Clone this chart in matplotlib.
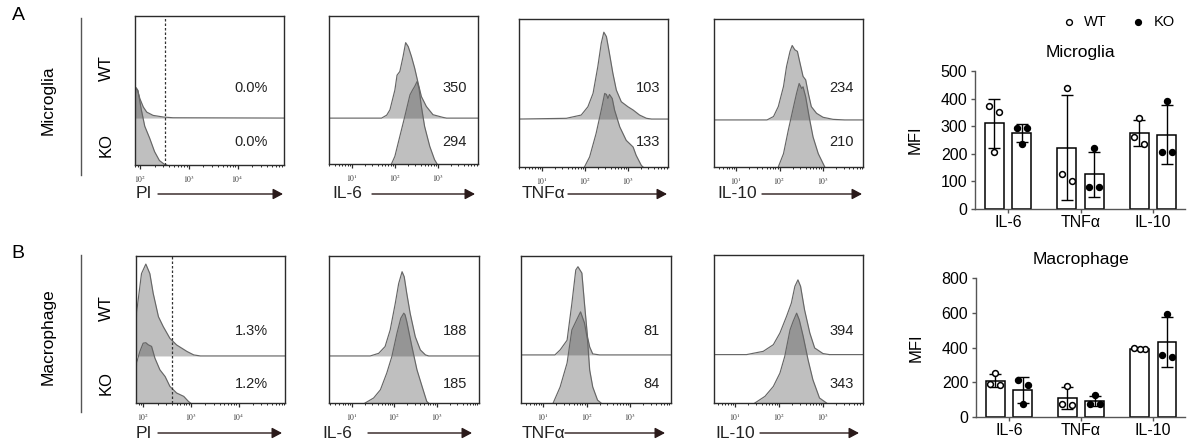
import numpy as np
import matplotlib
matplotlib.use('Agg')
import matplotlib.pyplot as plt
from matplotlib.lines import Line2D

plt.rcParams['font.family'] = ['Liberation Sans', 'DejaVu Sans']
plt.rcParams['mathtext.fontset'] = 'stix'

W, H = 1188, 446

# ---------------- histogram readouts: log10 intensity / height (fraction of box) ----------------
# Row A : Microglia
A_PI_WT_x = [1.90, 1.92, 1.95, 2.00, 2.07, 2.14, 2.27, 2.48, 2.68, 4.95]
A_PI_WT_h = [0.12, 0.20, 0.19, 0.13, 0.074, 0.04, 0.018, 0.007, 0.002, 0.0]
A_PI_KO_x = [1.90, 1.92, 1.96, 2.03, 2.10, 2.20, 2.30, 2.40, 2.50, 2.55]
A_PI_KO_h = [0.46, 0.52, 0.50, 0.37, 0.26, 0.18, 0.09, 0.03, 0.005, 0.0]

A_IL6_WT_x = [0.47, 1.69, 1.81, 1.885, 2.0, 2.05, 2.115, 2.19, 2.25, 2.31, 2.385, 2.46, 2.54, 2.615, 2.73, 2.885, 3.115, 3.2, 3.93]
A_IL6_WT_h = [0, 0, 0.02, 0.056, 0.19, 0.29, 0.315, 0.416, 0.51, 0.483, 0.416, 0.337, 0.236, 0.146, 0.079, 0.023, 0.005, 0, 0]
A_IL6_KO_x = [1.92, 2.0, 2.115, 2.23, 2.35, 2.41, 2.46, 2.515, 2.56, 2.615, 2.69, 2.81, 2.92, 2.98]
A_IL6_KO_h = [0, 0.052, 0.187, 0.321, 0.467, 0.50, 0.524, 0.557, 0.512, 0.389, 0.254, 0.119, 0.03, 0]

A_TNF_WT_x = [0.47, 1.57, 1.915, 2.07, 2.19, 2.30, 2.38, 2.44, 2.50, 2.57, 2.65, 2.73, 2.845, 3.0, 3.12, 3.27, 3.43, 3.55, 3.93]
A_TNF_WT_h = [0, 0.005, 0.027, 0.083, 0.174, 0.354, 0.512, 0.587, 0.557, 0.444, 0.309, 0.196, 0.117, 0.083, 0.061, 0.027, 0.005, 0, 0]
A_TNF_KO_x = [1.99, 2.11, 2.26, 2.38, 2.46, 2.50, 2.535, 2.57, 2.635, 2.69, 2.81, 2.96, 3.12, 3.19, 3.31, 3.35]
A_TNF_KO_h = [0, 0.068, 0.226, 0.384, 0.497, 0.49, 0.463, 0.49, 0.463, 0.384, 0.271, 0.18, 0.135, 0.079, 0.011, 0]

A_IL10_WT_x = [0.47, 1.71, 1.86, 1.97, 2.09, 2.16, 2.24, 2.29, 2.35, 2.41, 2.47, 2.54, 2.60, 2.66, 2.73, 2.85, 3.0, 3.23, 3.5, 3.93]
A_IL10_WT_h = [0, 0, 0.023, 0.09, 0.226, 0.361, 0.463, 0.503, 0.474, 0.463, 0.384, 0.294, 0.271, 0.181, 0.09, 0.045, 0.018, 0.004, 0, 0]
A_IL10_KO_x = [1.97, 2.09, 2.20, 2.32, 2.39, 2.45, 2.51, 2.54, 2.60, 2.68, 2.77, 2.89, 3.04]
A_IL10_KO_h = [0, 0.09, 0.248, 0.406, 0.497, 0.564, 0.53, 0.542, 0.474, 0.339, 0.203, 0.09, 0]

# Row B : Macrophage
B_PI_WT_x = [1.85, 1.86, 1.965, 2.056, 2.14, 2.21, 2.32, 2.42, 2.56, 2.70, 2.92, 3.06, 3.20, 4.97]
B_PI_WT_h = [0.05, 0.29, 0.56, 0.625, 0.56, 0.426, 0.267, 0.20, 0.12, 0.075, 0.03, 0.007, 0.0, 0.0]
B_PI_KO_x = [1.85, 1.86, 1.93, 2.0, 2.056, 2.106, 2.176, 2.246, 2.35, 2.46, 2.56, 2.70, 2.85, 2.95, 2.99]
B_PI_KO_h = [0.1, 0.27, 0.35, 0.407, 0.41, 0.396, 0.385, 0.305, 0.226, 0.18, 0.113, 0.068, 0.045, 0.01, 0.0]

B_IL6_WT_x = [0.47, 1.43, 1.63, 1.78, 1.90, 2.02, 2.10, 2.18, 2.23, 2.29, 2.37, 2.49, 2.61, 2.73, 2.81, 3.99]
B_IL6_WT_h = [0, 0, 0.018, 0.064, 0.177, 0.358, 0.493, 0.573, 0.539, 0.426, 0.29, 0.131, 0.041, 0.007, 0, 0]
B_IL6_KO_x = [1.31, 1.51, 1.67, 1.82, 1.94, 2.06, 2.15, 2.22, 2.25, 2.29, 2.41, 2.53, 2.65, 2.76, 2.80]
B_IL6_KO_h = [0, 0.034, 0.09, 0.204, 0.317, 0.475, 0.577, 0.611, 0.60, 0.554, 0.385, 0.226, 0.113, 0.011, 0]

B_TNF_WT_x = [0.49, 1.27, 1.39, 1.55, 1.66, 1.75, 1.80, 1.89, 1.95, 2.02, 2.07, 2.14, 2.30, 3.94]
B_TNF_WT_h = [0, 0, 0.034, 0.10, 0.35, 0.578, 0.60, 0.557, 0.35, 0.122, 0.054, 0.007, 0, 0]
B_TNF_KO_x = [1.23, 1.39, 1.55, 1.66, 1.77, 1.86, 1.95, 2.02, 2.07, 2.14, 2.25, 2.33]
B_TNF_KO_h = [0, 0.109, 0.272, 0.497, 0.565, 0.62, 0.544, 0.43, 0.224, 0.109, 0.02, 0]

B_IL10_WT_x = [0.52, 1.26, 1.64, 1.87, 2.02, 2.17, 2.28, 2.36, 2.43, 2.49, 2.58, 2.70, 2.81, 3.0, 3.15, 3.91]
B_IL10_WT_h = [0, 0, 0.022, 0.067, 0.146, 0.258, 0.348, 0.461, 0.505, 0.461, 0.303, 0.146, 0.045, 0.007, 0, 0]
B_IL10_KO_x = [1.45, 1.68, 1.87, 2.02, 2.13, 2.25, 2.32, 2.40, 2.46, 2.55, 2.66, 2.77, 2.92, 3.08]
B_IL10_KO_h = [0, 0.045, 0.112, 0.202, 0.315, 0.494, 0.551, 0.607, 0.562, 0.449, 0.292, 0.157, 0.034, 0]

# numbers printed in the histograms (WT, KO)
A_labels = [('0.0%', '0.0%'), ('350', '294'), ('103', '133'), ('234', '210')]
B_labels = [('1.3%', '1.2%'), ('188', '185'), ('81', '84'), ('394', '343')]
markers = ['PI', 'IL-6', 'TNFα', 'IL-10']
PI_gate_A = 2.51
PI_gate_B = 2.60

# ---------------- MFI bar chart data ----------------
categories = ['IL-6', 'TNFα', 'IL-10']
mg_wt = [[372, 350, 208], [127, 100, 440], [262, 236, 328]]
mg_ko = [[294, 292, 236], [78, 78, 220], [208, 208, 392]]
mp_wt = [[188, 186, 253], [72, 70, 180], [396, 394, 390]]
mp_ko = [[215, 182, 73], [77, 75, 128], [355, 345, 595]]

# ---------------- figure ----------------
fig = plt.figure(figsize=(W / 100, H / 100), dpi=100)


def px_axes(x0, y0, x1, y1):
    return fig.add_axes([x0 / W, 1 - y1 / H, (x1 - x0) / W, (y1 - y0) / H])


def fx(x):
    return x / W


def fy(y):
    return 1 - y / H


FILL = (0.27, 0.27, 0.27)
ALPHA = 0.34
EDGE = '#666666'
FRAME = '#2b2b2b'


def draw_hist(ax, xlim, div, wx, wh, kx, kh, gate=None):
    wx = np.asarray(wx); wh = np.asarray(wh)
    kx = np.asarray(kx); kh = np.asarray(kh)
    ax.fill_between(wx, div, div + wh, color=FILL, alpha=ALPHA, lw=0)
    ax.plot(wx, div + wh, color=EDGE, lw=0.85)
    ax.fill_between(kx, 0, kh, color=FILL, alpha=ALPHA, lw=0)
    ax.plot(kx, kh, color=EDGE, lw=0.85)
    if gate is not None:
        ax.axvline(gate, color='#333333', lw=0.9, ls=(0, (2, 1.6)))
    ax.set_xlim(*xlim)
    ax.set_ylim(0, 1)
    ax.set_yticks([])
    d0 = int(np.floor(xlim[0])); d1 = int(np.ceil(xlim[1]))
    majors = [d for d in range(d0, d1 + 1) if xlim[0] <= d <= xlim[1]]
    minors = [d + np.log10(m) for d in range(d0, d1 + 1) for m in range(2, 10)
              if xlim[0] <= d + np.log10(m) <= xlim[1]]
    ax.set_xticks(majors)
    ax.set_xticklabels([r'$10^{%d}$' % d for d in majors])
    ax.set_xticks(minors, minor=True)
    ax.tick_params(axis='x', which='major', length=3, width=0.9, direction='out',
                   labelsize=5.5, pad=3.5, color=FRAME, labelcolor='#333333')
    ax.tick_params(axis='x', which='minor', length=1.6, width=0.7, direction='out', color=FRAME)
    for s in ax.spines.values():
        s.set_color(FRAME)
        s.set_linewidth(1.0)


rowA = [
    ((135, 16, 284, 165), (1.90, 4.95), 0.315, A_PI_WT_x, A_PI_WT_h, A_PI_KO_x, A_PI_KO_h, PI_gate_A),
    ((329, 16, 478, 164), (0.47, 3.93), 0.31, A_IL6_WT_x, A_IL6_WT_h, A_IL6_KO_x, A_IL6_KO_h, None),
    ((519, 19, 668, 167), (0.47, 3.93), 0.324, A_TNF_WT_x, A_TNF_WT_h, A_TNF_KO_x, A_TNF_KO_h, None),
    ((714, 19, 863, 167), (0.49, 3.92), 0.318, A_IL10_WT_x, A_IL10_WT_h, A_IL10_KO_x, A_IL10_KO_h, None),
]
rowB = [
    ((136, 256, 285, 403), (1.85, 4.97), 0.32, B_PI_WT_x, B_PI_WT_h, B_PI_KO_x, B_PI_KO_h, PI_gate_B),
    ((329, 256, 479, 403), (0.46, 3.99), 0.32, B_IL6_WT_x, B_IL6_WT_h, B_IL6_KO_x, B_IL6_KO_h, None),
    ((521, 256, 671, 403), (0.49, 3.94), 0.327, B_TNF_WT_x, B_TNF_WT_h, B_TNF_KO_x, B_TNF_KO_h, None),
    ((714, 255, 863, 403), (0.52, 3.91), 0.327, B_IL10_WT_x, B_IL10_WT_h, B_IL10_KO_x, B_IL10_KO_h, None),
]

num_right = [268, 467, 660, 854]
for rows, labels, ys, lab_y, txt_x, arr in [
        (rowA, A_labels, (88, 142), 194, [136, 332, 522, 717],
         [(158, 283), (372, 475), (568, 667), (762, 862)]),
        (rowB, B_labels, (331, 384), 433, [136, 322, 522, 715],
         [(158, 282), (368, 472), (565, 665), (760, 859)])]:
    for i, (rect, xlim, div, wx, wh, kx, kh, gate) in enumerate(rows):
        ax = px_axes(*rect)
        draw_hist(ax, xlim, div, wx, wh, kx, kh, gate)
        fig.text(fx(num_right[i]), fy(ys[0]), labels[i][0], ha='right', va='center', fontsize=10.5, color='#222222')
        fig.text(fx(num_right[i]), fy(ys[1]), labels[i][1], ha='right', va='center', fontsize=10.5, color='#222222')
        fig.text(fx(txt_x[i]), fy(lab_y), markers[i], ha='left', va='center', fontsize=12.5, color='#222222')
        fig.add_artist(matplotlib.patches.FancyArrowPatch(
            (fx(arr[i][0]), fy(lab_y)), (fx(arr[i][1]), fy(lab_y)), transform=fig.transFigure,
            arrowstyle='-|>,head_length=6,head_width=3.2', mutation_scale=1, lw=1.0,
            color='#2a1a1a', shrinkA=0, shrinkB=0))

# row titles, group labels
fig.text(fx(18), fy(16), 'A', fontsize=14, ha='center', va='center')
fig.text(fx(18), fy(253), 'B', fontsize=14, ha='center', va='center')
fig.text(fx(48), fy(100), 'Microglia', rotation=90, fontsize=12.5, ha='center', va='center')
fig.text(fx(48), fy(337), 'Macrophage', rotation=90, fontsize=12.5, ha='center', va='center')
fig.add_artist(Line2D([fx(81), fx(81)], [fy(18), fy(175)], color='#555555', lw=1.0))
fig.add_artist(Line2D([fx(81), fx(81)], [fy(255), fy(412)], color='#555555', lw=1.0))
for yy, t in [(68, 'WT'), (145, 'KO'), (308, 'WT'), (383, 'KO')]:
    fig.text(fx(106), fy(yy), t, rotation=90, fontsize=12, ha='center', va='center')

# ---------------- bar charts ----------------
OFF = 0.19
BW = 0.26
JIT = [-0.07, 0.07, 0.0]


def draw_bars(ax, wt, ko, ymax, step, title):
    xs = np.arange(len(categories))
    for vals, sign, face, ms_face in [(wt, -1, 'white', 'white'), (ko, 1, 'white', 'black')]:
        arr = np.array(vals, dtype=float)
        m = arr.mean(axis=1)
        sd = arr.std(axis=1, ddof=1)
        pos = xs + sign * OFF
        ax.bar(pos, m, width=BW, facecolor=face, edgecolor='black', lw=1.1, zorder=2)
        ax.errorbar(pos, m, yerr=sd, fmt='none', ecolor='black', elinewidth=1.0,
                    capsize=4, capthick=1.0, zorder=3)
        for j in range(arr.shape[1]):
            ax.plot(pos + JIT[j], arr[:, j], 'o', ms=4.2, mfc=ms_face, mec='black',
                    mew=1.1, zorder=4, clip_on=False)
    ax.set_xlim(-0.455, 2.44)
    ax.set_ylim(0, ymax)
    ax.set_yticks(np.arange(0, ymax + 1, step))
    ax.set_xticks(xs)
    ax.set_xticklabels(categories)
    for s in ['top', 'right']:
        ax.spines[s].set_visible(False)
    for s in ['left', 'bottom']:
        ax.spines[s].set_color('#555555')
        ax.spines[s].set_linewidth(1.0)
    ax.tick_params(axis='y', length=3, width=1.0, color='#555555', labelsize=11.5, pad=2.5)
    ax.tick_params(axis='x', length=3, width=1.0, color='#555555', labelsize=11.5, pad=1.5)
    ax.set_ylabel('MFI', fontsize=12, labelpad=13)
    ax.set_title(title, fontsize=12.5, pad=10)


axA = px_axes(975, 71, 1185, 209)
draw_bars(axA, mg_wt, mg_ko, 500, 100, 'Microglia')
axB = px_axes(976, 278, 1185, 417)
draw_bars(axB, mp_wt, mp_ko, 800, 200, 'Macrophage')

# legend
fig.add_artist(Line2D([fx(1069)], [fy(22)], marker='o', ms=4.2, mfc='white', mec='black', mew=1.0, ls='none'))
fig.text(fx(1084), fy(22), 'WT', fontsize=10.5, ha='left', va='center')
fig.add_artist(Line2D([fx(1138)], [fy(22)], marker='o', ms=4.2, mfc='black', mec='black', mew=1.0, ls='none'))
fig.text(fx(1154), fy(22), 'KO', fontsize=10.5, ha='left', va='center')

fig.savefig('out.png', dpi=100)
